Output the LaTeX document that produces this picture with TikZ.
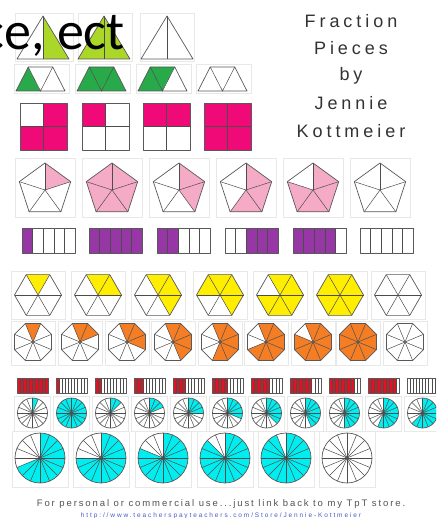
\documentclass[tikz,border=0pt]{standalone}
\usepackage{fontspec}
\setmainfont{Liberation Sans}
\newfontfamily\bigfont{Carlito}
\newfontfamily\titlefont[LetterSpace=22]{Liberation Sans}
\newfontfamily\footfont[LetterSpace=20]{Liberation Sans}
\newfontfamily\urlfont[LetterSpace=29]{Liberation Sans}
\definecolor{limeG}{RGB}{170,215,40}
\definecolor{dgreen}{RGB}{40,170,75}
\definecolor{magP}{RGB}{240,10,120}
\definecolor{lpink}{RGB}{245,170,198}
\definecolor{purp}{RGB}{150,55,165}
\definecolor{yel}{RGB}{255,238,0}
\definecolor{org}{RGB}{245,125,35}
\definecolor{redB}{RGB}{220,20,35}
\definecolor{cyanC}{RGB}{0,238,240}
\definecolor{blueU}{RGB}{70,90,200}
\tikzset{
  spoke/.style={draw=gray!60!black, line width=0.5pt},
  rim/.style={draw=gray!70!black, line width=0.7pt, line join=round},
  framebox/.style={draw=gray!18, line width=0.6pt},
  titletext/.style={anchor=base, inner sep=0pt, text=black!80, font=\titlefont\fontsize{18}{18}\selectfont},
}
% regular polygon: cx cy R n a0 filled-list colour
\newcommand\fracpoly[7]{%
  \begin{scope}[shift={(#1,#2)}]
    \foreach \i in {#6} {\fill[#7] (0,0) -- ({#5+\i*360/#4}:#3) -- ({#5+(\i+1)*360/#4}:#3) -- cycle;}
    \foreach \i in {1,...,#4} {\draw[spoke] (0,0) -- ({#5+\i*360/#4}:#3);}
    \draw[rim] (#5:#3) \foreach \i in {1,...,#4} { -- ({#5+\i*360/#4}:#3)} -- cycle;
  \end{scope}}
% circle with 16 sectors: cx cy r k colour
\newcommand\fracpie[5]{%
  \begin{scope}[shift={(#1,#2)}]
    \ifnum#4>0 \fill[#5] (0,0) -- (-90:#3) arc[start angle=-90, delta angle={#4*22.5}, radius=#3] -- cycle;\fi
    \foreach \i in {0,...,15} {\draw[spoke] (0,0) -- ({-90+\i*22.5}:#3);}
    \draw[rim] (0,0) circle[radius=#3];
  \end{scope}}
% bar: x y w h n filled-list colour
\newcommand\fracbar[7]{%
  \foreach \i in {#6} {\fill[#7] ({#1+\i*#3/#5},#2) rectangle ++({#3/#5},#4);}
  \foreach \i in {1,...,#5} {\draw[spoke] ({#1+\i*#3/#5},#2) -- ++(0,#4);}
  \draw[rim] (#1,#2) rectangle ++(#3,#4);}
% square in quarters: x y list of col/row
\newcommand\fracsq[3]{%
  \foreach \c/\r in {#3} {\fill[magP] ({#1+\c*23.5},{#2+\r*23.5}) rectangle ++(23.5,23.5);}
  \draw[spoke] (#1+23.5,#2) -- ++(0,47) (#1,#2+23.5) -- ++(47,0);
  \draw[rim] (#1,#2) rectangle ++(47,47);}
% big triangle: cx leftcolour rightcolour
\newcommand\fractri[3]{%
  \fill[#2] (#1,16) -- (#1-26,59) -- (#1,59) -- cycle;
  \fill[#3] (#1,16) -- (#1+26,59) -- (#1,59) -- cycle;
  \draw[spoke] (#1,16) -- (#1,59);
  \draw[rim] (#1,16) -- (#1+26,59) -- (#1-26,59) -- cycle;}
% trapezoid of three triangles: x0 cA cB cC
\newcommand\fractrap[4]{%
  \fill[#2] (#1,91) -- (#1+24.5,91) -- (#1+12.25,67) -- cycle;
  \fill[#3] (#1+12.25,67) -- (#1+24.5,91) -- (#1+36.75,67) -- cycle;
  \fill[#4] (#1+24.5,91) -- (#1+49,91) -- (#1+36.75,67) -- cycle;
  \draw[spoke] (#1+12.25,67) -- (#1+24.5,91) -- (#1+36.75,67);
  \draw[rim] (#1,91) -- (#1+49,91) -- (#1+36.75,67) -- (#1+12.25,67) -- cycle;}
\begin{document}
\begin{tikzpicture}[x=1pt,y=-1pt]
\useasboundingbox (0,0) rectangle (436,518);
\clip (0,0) rectangle (436,518);
\fill[white] (0,0) rectangle (436,518);

% ---- triangles ----
\foreach \a/\b in {15/73,78/132,140/194} {\draw[framebox] (\a,13) rectangle (\b,61);}
\fractri{43}{white}{limeG}
\fractri{104}{limeG}{limeG}
\fractri{167}{white}{white}
\foreach \a in {14,75,136,196} {\draw[framebox] (\a,64) rectangle ++(55,29);}
\fractrap{16}{dgreen}{white}{white}
\fractrap{77}{dgreen}{dgreen}{dgreen}
\fractrap{138}{dgreen}{dgreen}{white}
\fractrap{198}{white}{white}{white}

\node[anchor=base east, inner sep=0pt, font=\bigfont\fontsize{54}{54}\selectfont] (ce) at (125,50) {ce, ect};

% ---- title ----
\node[titletext] (t1) at (351,28) {Fraction};
\node[titletext] (t2) at (351,55) {Pieces};
\node[titletext] (t3) at (351,81) {by};
\node[titletext] (t4) at (351,110) {Jennie};
\node[titletext] (t5) at (351,138) {Kottmeier};

% ---- squares ----
\fracsq{20}{103}{1/0,0/1,1/1}
\fracsq{82}{103}{0/0}
\fracsq{143}{103}{0/0,1/0}
\fracsq{204}{103}{0/0,1/0,0/1,1/1}

% ---- pentagons ----
\foreach \c in {45,112,179,246,313,380} {\draw[framebox] (\c-30,158) rectangle (\c+30,217);}
\fracpoly{45}{190}{27}{5}{-90}{0}{lpink}
\fracpoly{112}{190}{27}{5}{-90}{0,...,4}{lpink}
\fracpoly{179}{190}{27}{5}{-90}{0,1}{lpink}
\fracpoly{246}{190}{27}{5}{-90}{0,1,2}{lpink}
\fracpoly{313}{190}{27}{5}{-90}{0,1,2,3}{lpink}
\fracpoly{380}{190}{27}{5}{-90}{0}{white}

% ---- purple bars ----
\fracbar{22}{228}{53}{25}{5}{0}{purp}
\fracbar{89}{228}{53}{25}{5}{0,...,4}{purp}
\fracbar{157}{228}{53}{25}{5}{0,1}{purp}
\fracbar{225}{228}{53}{25}{5}{2,3,4}{purp}
\fracbar{293}{228}{53}{25}{5}{0,...,3}{purp}
\fracbar{360}{228}{53}{25}{5}{0}{white}

% ---- hexagons ----
\foreach \c in {38,98,158,220,280,340,398} {\draw[framebox] (\c-27,271) rectangle (\c+27,319);}
\fracpoly{38}{295}{23.5}{6}{-120}{0}{yel}
\fracpoly{98}{295}{23.5}{6}{-120}{0,1}{yel}
\fracpoly{158}{295}{23.5}{6}{-120}{0,1,2}{yel}
\fracpoly{220}{295}{23.5}{6}{-120}{5,0,1,2}{yel}
\fracpoly{280}{295}{23.5}{6}{-120}{0,...,4}{yel}
\fracpoly{340}{295}{23.5}{6}{-120}{0,...,5}{yel}
\fracpoly{398}{295}{23.5}{6}{-120}{0}{white}

% ---- octagons ----
\foreach \c in {33,80,127,173,220,266,313,358,405} {\draw[framebox] (\c-22,321) rectangle (\c+22,365);}
\fracpoly{33}{342}{20}{8}{-112.5}{0}{org}
\fracpoly{80}{342}{20}{8}{-112.5}{0,1}{org}
\fracpoly{127}{342}{20}{8}{-112.5}{0,1,2}{org}
\fracpoly{173}{342}{20}{8}{-112.5}{0,...,3}{org}
\fracpoly{220}{342}{20}{8}{-112.5}{0,...,4}{org}
\fracpoly{266}{342}{20}{8}{-112.5}{0,...,5}{org}
\fracpoly{313}{342}{20}{8}{-112.5}{0,...,6}{org}
\fracpoly{358}{342}{20}{8}{-112.5}{0,...,7}{org}
\fracpoly{405}{342}{20}{8}{-112.5}{0}{white}

% ---- red bars ----
\fracbar{17}{378}{31}{15}{10}{0,...,9}{redB}
\foreach \k [count=\j from 1] in {0,...,8} {\fracbar{17+\j*39}{378}{31}{15}{10}{0,...,\k}{redB}}
\fracbar{407}{378}{31}{15}{10}{0}{white}

% ---- small circles ----
\foreach \k [count=\j from 0] in {1,16,2,3,4,5,6,7,8,9,10} {
  \draw[framebox] ({32.5+\j*39-18},396) rectangle ++(36,35);
  \fracpie{32.5+\j*39}{413}{15}{\k}{cyanC}}

% ---- big circles ----
\foreach \k/\c in {11/40,12/101,13/163,14/225,15/286,0/347} {
  \draw[framebox] (\c-28,431) rectangle (\c+28,487);
  \fracpie{\c}{458}{25}{\k}{cyanC}}

% ---- footer ----
\node[anchor=base, inner sep=0pt, text=gray!65!black, font=\footfont\fontsize{9.5}{9.5}\selectfont] (foot) at (221,506) {For personal or commercial use...just link back to my TpT store.};
\node[anchor=base, inner sep=0pt, text=blueU, font=\urlfont\fontsize{6.5}{6.5}\selectfont] (url) at (221,517) {http://www.teacherspayteachers.com/Store/Jennie-Kottmeier};
\end{tikzpicture}
\end{document}
